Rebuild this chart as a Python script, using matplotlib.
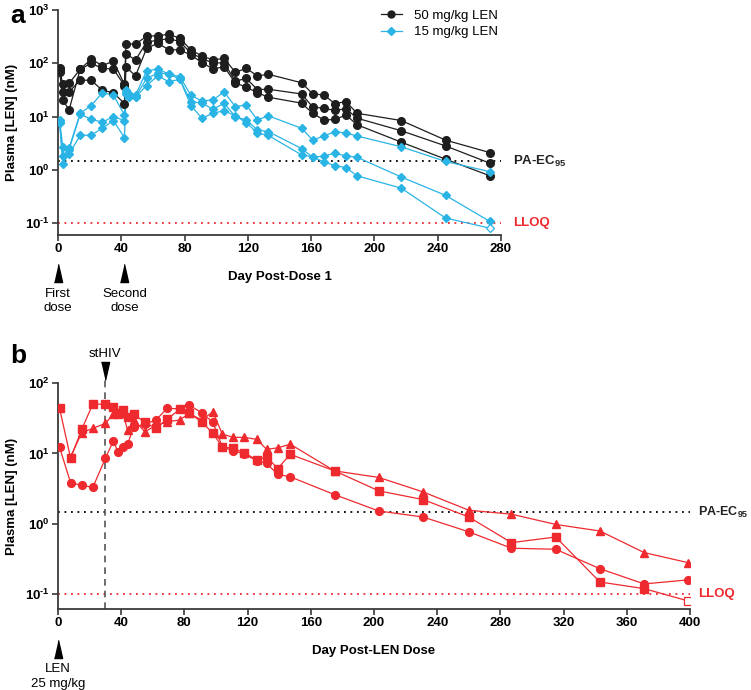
import matplotlib.pyplot as plt
from matplotlib.transforms import blended_transform_factory

plt.rcParams['font.family'] = ['Liberation Sans', 'DejaVu Sans']
plt.rcParams['mathtext.fontset'] = 'custom'
plt.rcParams['mathtext.rm'] = 'Liberation Sans:bold'
plt.rcParams['mathtext.bf'] = 'Liberation Sans:bold'
plt.rcParams['mathtext.it'] = 'Liberation Sans:bold'

# ---- panel a: two dose groups, three animals each ----
days_black = [1, 3, 7, 14, 21, 28, 35, 42, 43, 49, 56, 63, 70, 77, 84, 91, 98, 105,
              112, 119, 126, 133, 154, 161, 168, 175, 182, 189, 217, 245, 273]
black_1 = [75, 20.5, 13.3, 77, 120, 90, 110, 40, 230, 230, 320, 330, 350, 295, 178, 137,
           115, 124, 68, 80, 58, 62, 43, 26.5, 25.4, 17.5, 19, 11.5, 8.4, 3.6, 2.1]
black_2 = [80, 40, 42, 77, 100, 80, 78, 38, 150, 115, 250, 270, 290, 255, 154, 124,
           100, 103, 46, 52, 32, 32.5, 26.5, 15, 14.3, 13, 14, 9.3, 5.4, 2.8, 1.33]
black_3 = [68, 29, 29, 48, 48, 31, 28, 17.5, 85, 58, 190, 237, 180, 178, 143, 103,
           78, 86, 43, 35.5, 28, 23, 17.8, 11.5, 8.6, 8.8, 10.7, 7, 3.3, 1.58, 0.77]

days_cyan = [1, 3, 7, 14, 21, 28, 35, 42, 43, 45, 49, 56, 63, 70, 77, 84, 91, 98, 105,
             112, 119, 126, 133, 154, 161, 168, 175, 182, 189, 217, 245, 273]
cyan_1 = [8.6, 2.72, 2.54, 11.5, 16, 28, 25.4, 10.7, 31.6, 27, 25, 72, 78, 63, 56, 25,
          19.6, 20.5, 29, 15.4, 16.5, 8.6, 10.3, 6.0, 3.6, 4.3, 5.2, 4.9, 4.3, 2.7, 1.43, 0.92]
cyan_2 = [7.5, 1.85, 2.4, 11, 8.9, 7.8, 10, 8.4, 27, 25, 23.5, 52, 65, 63, 50, 19,
          17.8, 13.7, 17.8, 10, 8.6, 5.6, 5.2, 2.5, 1.72, 1.8, 2.05, 1.82, 1.72, 0.73, 0.33, 0.107]
cyan_3 = [8.0, 1.29, 1.99, 4.4, 4.5, 6.0, 8.4, 4.0, 29, 23, 23.5, 38, 58, 45, 50, 16,
          9.3, 11.5, 12.9, 10.3, 7.7, 4.9, 4.4, 1.9, 1.75, 1.4, 1.2, 1.1, 0.77, 0.45, 0.124, 0.08]

# ---- panel b: three animals, 25 mg/kg ----
days_b = [1, 8, 15, 22, 30, 35, 38, 41, 44, 48, 55, 62, 69, 77, 83, 91, 98, 104, 111,
          118, 126, 132, 139, 147, 175, 203, 231, 260, 287, 315, 343, 371, 399]
red_circle = [12.2, 3.8, 3.54, 3.28, 8.5, 15, 10.5, 12.4, 13.5, 23.9, 26, 29.8, 43.6, 43,
              48.6, 37.8, 27.6, 12.4, 10.9, 9.8, 7.8, 7.2, 5.07, 4.65, 2.6, 1.52, 1.25,
              0.77, 0.45, 0.435, 0.23, 0.14, 0.16]
red_square = [43.7, 8.5, 22, 49.8, 50.2, 45, 38, 41.3, 33, 36, 27.6, 22.7, 30.4, 42.3,
              37, 28.2, 19.2, 12.4, 11.8, 10.2, 8.0, 9.0, 6.1, 9.7, 5.65, 2.94, 2.21,
              1.25, 0.54, 0.65, 0.149, 0.12, 0.08]
days_tri = days_b[1:]
red_triangle = [9.0, 19.6, 22.7, 26.7, 35.9, 36, 38, 21.4, 29.8, 20.3, 25, 28.2, 29.8,
                37, 29.8, 39, 18.8, 16.9, 16.9, 15.8, 11.4, 12, 13.5, 5.65, 4.56, 2.84,
                1.56, 1.37, 0.98, 0.79, 0.39, 0.28]

pa_ec95 = 1.46
lloq = 0.1
dose_days_a = [0, 42]
dose_labels_a = ['First\ndose', 'Second\ndose']
sthiv_day = 30

BLACK = '#1e1e1e'
CYAN = '#2ab4e6'
RED = '#ee2a2f'
AXC = '#3a3a3a'
UP = [(-1, -2.2), (1, -2.2), (0, 2.2)]
DOWN = [(-1, 2.2), (1, 2.2), (0, -2.2)]


def draw(ax, x, y, color, marker, ms, open_last=False):
    ax.plot(x, y, '-', color=color, lw=0.9, zorder=2)
    n = len(x) - 1 if open_last else len(x)
    ax.plot(x[:n], y[:n], marker, color=color, ms=ms, mec=color, zorder=3, ls='none')
    if open_last:
        ax.plot(x[-1:], y[-1:], marker, color=color, ms=ms, mfc='white', mec=color,
                mew=0.9, zorder=3, ls='none')


def style(ax, ymin_exp, ymax_exp, xmax):
    ax.set_yscale('log')
    ax.set_ylim(10 ** ymin_exp, 10 ** ymax_exp)
    ax.set_xlim(0, xmax)
    exps = list(range(-1, ymax_exp + 1))
    ax.set_yticks([10.0 ** e for e in exps])
    labels = []
    for e in exps:
        if e < 0:
            labels.append(r'$\mathbf{10^{\text{-}%d}}$' % abs(e))
        else:
            labels.append(r'$\mathbf{10^{%d}}$' % e)
    ax.set_yticklabels(labels)
    ax.yaxis.set_minor_locator(plt.NullLocator())
    ax.set_xticks(range(0, xmax + 1, 40))
    for s in ['top', 'right']:
        ax.spines[s].set_visible(False)
    for s in ['left', 'bottom']:
        ax.spines[s].set_color(AXC)
        ax.spines[s].set_linewidth(1.3)
    ax.tick_params(direction='out', length=4, width=1.2, color=AXC, labelsize=9.5, pad=2)
    for lab in ax.get_xticklabels():
        lab.set_fontweight('bold')
    ax.set_ylabel('Plasma [LEN] (nM)', fontweight='bold', fontsize=9.5, labelpad=5)


fig = plt.figure(figsize=(7.51, 6.90), dpi=100)
ax_a = fig.add_axes([58 / 751, 1 - 235 / 690, 443 / 751, 225 / 690])
ax_b = fig.add_axes([58 / 751, 1 - 609 / 690, 632 / 751, 226 / 690])

# panel a
for vals in [black_1, black_2, black_3]:
    draw(ax_a, days_black, vals, BLACK, 'o', 5.5)
for vals in [cyan_1, cyan_2]:
    draw(ax_a, days_cyan, vals, CYAN, 'D', 3.6)
draw(ax_a, days_cyan, cyan_3, CYAN, 'D', 3.6, open_last=True)

style(ax_a, -1.225, 3, 280)
ax_a.set_xlabel('Day Post-Dose 1', fontweight='bold', fontsize=9.5, labelpad=11)

ax_a.plot([0, 280], [pa_ec95, pa_ec95], ls=(0, (1, 2.6)), color='black', lw=1.3, zorder=1)
ax_a.plot([0, 280], [lloq, lloq], ls=(0, (1, 2.6)), color=RED, lw=1.3, zorder=1)
tr_a = blended_transform_factory(ax_a.transAxes, ax_a.transData)
ax_a.text(1.027, pa_ec95, r'PA-EC$_{\mathbf{95}}$', transform=tr_a, fontsize=9.5,
          fontweight='bold', va='center', color='#222222')
ax_a.text(1.027, lloq, 'LLOQ', transform=tr_a, fontsize=9.5, fontweight='bold',
          va='center', color=RED)

tx_a = ax_a.get_xaxis_transform()
for d, lab in zip(dose_days_a, dose_labels_a):
    ax_a.plot([d], [-0.17], marker=UP, ms=13, color='black', transform=tx_a, clip_on=False)
    ax_a.text(d, -0.295, lab, transform=tx_a, ha='center', va='center', fontsize=9.5,
              linespacing=1.25)

h1, = ax_a.plot([], [], '-o', color=BLACK, ms=5, lw=0.9)
h2, = ax_a.plot([], [], '-D', color=CYAN, ms=3.6, lw=0.9)
fig.legend([h1, h2], ['50 mg/kg LEN', '15 mg/kg LEN'], loc='upper left',
           bbox_to_anchor=(369 / 751, 1 + 2 / 690), frameon=False, fontsize=9.5,
           handlelength=1.6, handletextpad=0.9, labelspacing=0.3)

# panel b
draw(ax_b, days_b, red_circle, RED, 'o', 5.6)
draw(ax_b, days_b, red_square, RED, 's', 5.3, open_last=True)
draw(ax_b, days_tri, red_triangle, RED, '^', 5.8)

style(ax_b, -1.21, 2, 400)
ax_b.set_xlabel('Day Post-LEN Dose', fontweight='bold', fontsize=9.5, labelpad=11)

ax_b.plot([0, 400], [pa_ec95, pa_ec95], ls=(0, (1, 2.6)), color='black', lw=1.3, zorder=1)
ax_b.plot([0, 400], [lloq, lloq], ls=(0, (1, 2.6)), color=RED, lw=1.3, zorder=1)
tr_b = blended_transform_factory(ax_b.transAxes, ax_b.transData)
ax_b.text(1.013, pa_ec95, r'PA-EC$_{\mathbf{95}}$', transform=tr_b, fontsize=9,
          fontweight='bold', va='center', color='#222222')
ax_b.text(1.013, lloq, 'LLOQ', transform=tr_b, fontsize=9.5, fontweight='bold',
          va='center', color=RED)

tx_b = ax_b.get_xaxis_transform()
ax_b.plot([sthiv_day, sthiv_day], [0, 1.02], ls=(0, (4, 3)), color='#555555', lw=1.2,
          transform=tx_b, clip_on=False, zorder=1)
ax_b.plot([sthiv_day], [1.055], marker=DOWN, ms=13, color='black', transform=tx_b,
          clip_on=False)
ax_b.text(sthiv_day, 1.128, 'stHIV', transform=tx_b, ha='center', va='center', fontsize=9.5)
ax_b.plot([0], [-0.177], marker=UP, ms=13, color='black', transform=tx_b, clip_on=False)
ax_b.text(0, -0.298, 'LEN\n25 mg/kg', transform=tx_b, ha='center', va='center',
          fontsize=9.5, linespacing=1.35)

fig.text(10 / 751, 1 - 16 / 690, 'a', fontsize=19, fontweight='bold', va='center')
fig.text(10 / 751, 1 - 356 / 690, 'b', fontsize=19, fontweight='bold', va='center')

fig.savefig('out.png', dpi=100)
